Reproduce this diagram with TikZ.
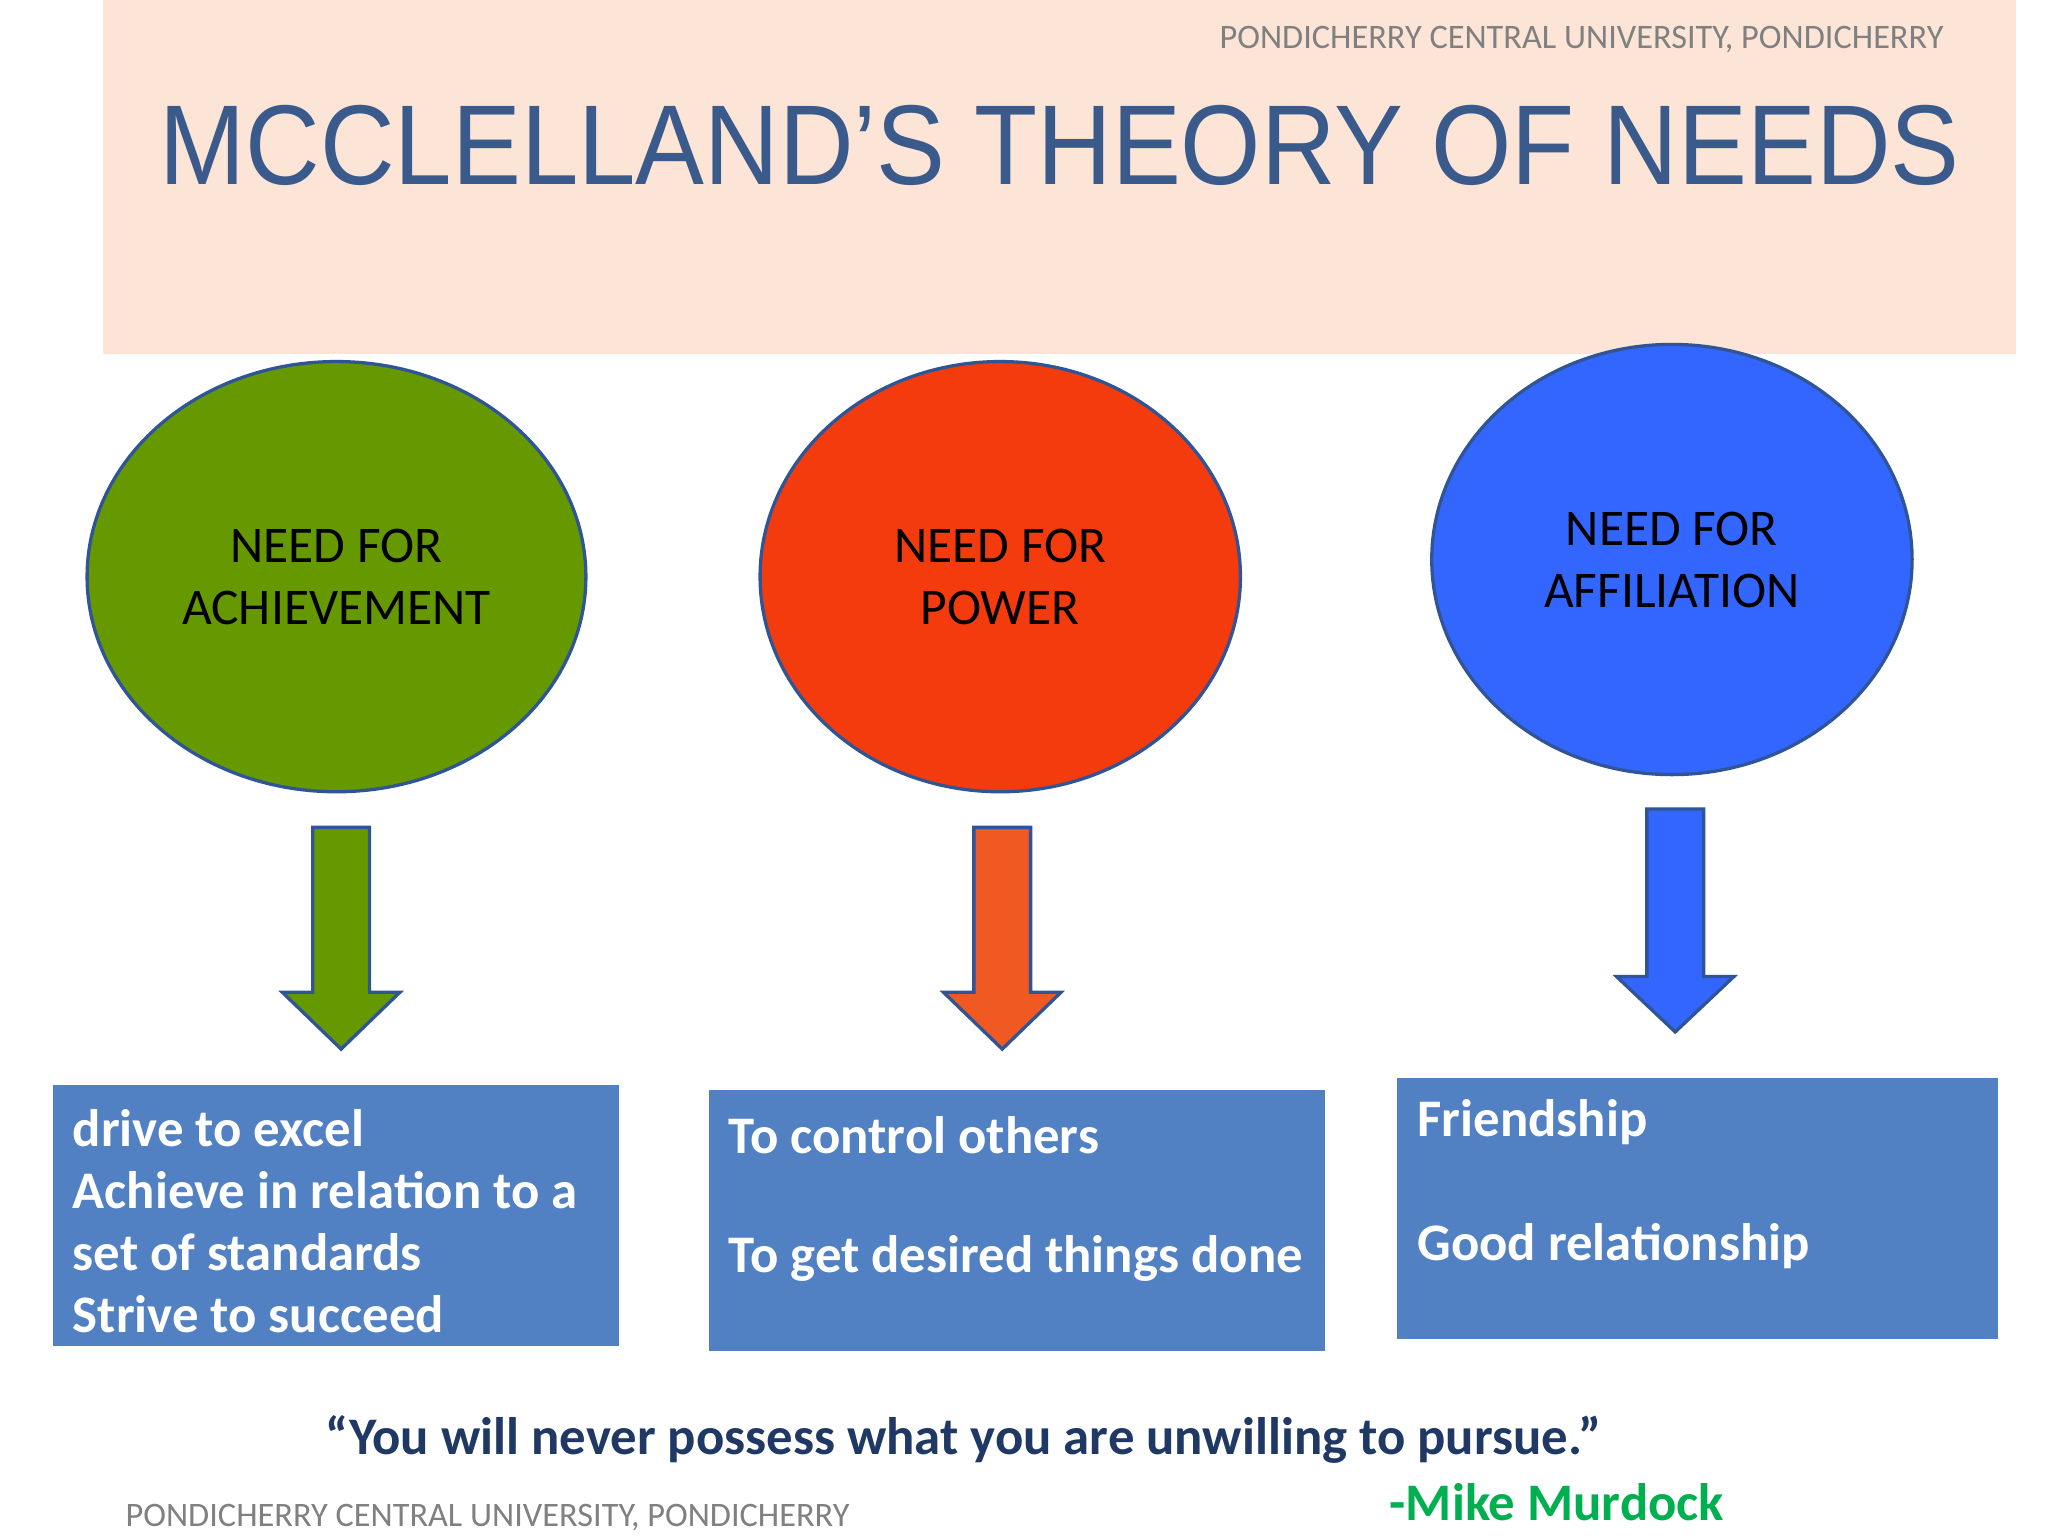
\documentclass[tikz,border=0pt]{standalone}
\usepackage{fontspec}
\setmainfont{Carlito}
\newfontfamily\arialf{Liberation Sans}
\usetikzlibrary{shapes.geometric}
\definecolor{peach}{HTML}{FCE4D6}
\definecolor{titleblue}{HTML}{3A5A8C}
\definecolor{edgeblue}{HTML}{2F5597}
\definecolor{gr}{HTML}{669900}
\definecolor{rd}{HTML}{F43B0E}
\definecolor{bl}{HTML}{3366FF}
\definecolor{orng}{HTML}{F05A22}
\definecolor{boxb}{HTML}{5281C3}
\definecolor{navy}{HTML}{1F3864}
\definecolor{mgreen}{HTML}{00B050}
\begin{document}
\begin{tikzpicture}[x=1pt,y=-1pt,
  need/.style={ellipse,draw=edgeblue,line width=2.5pt,align=center,font=\fontsize{39}{47}\selectfont,text=black},
  blk/.style={draw=edgeblue,line width=2.5pt,line join=miter},
  infobox/.style={fill=boxb,draw=none},
  infotxt/.style={anchor=west,text=white,font=\fontsize{40}{42}\selectfont\bfseries,inner sep=0pt},
  foot/.style={text=gray,font=\fontsize{26}{28}\selectfont,inner sep=0pt}]
\useasboundingbox (0,0) rectangle (1552,1164);
\fill[white] (0,0) rectangle (1552,1164);
\fill[peach] (78,0) rectangle (1528,268);
\node[foot,anchor=east] (uni1) at (1473,30) {PONDICHERRY CENTRAL UNIVERSITY, PONDICHERRY};
\node[text=titleblue,font=\arialf\fontsize{86}{90}\selectfont,inner sep=0pt] (title) at (803,110) {\scalebox{0.91}[1]{MCCLELLAND’S THEORY OF NEEDS}};
% ellipses
\node[need,fill=gr,minimum width=378pt,minimum height=326pt] (ach) at (255,437) {NEED FOR\\ACHIEVEMENT};
\node[need,fill=rd,minimum width=364pt,minimum height=326pt] (pow) at (758,437) {NEED FOR\\POWER};
\node[need,fill=bl,minimum width=364pt,minimum height=326pt] (aff) at (1267,424) {NEED FOR\\AFFILIATION};
% block arrows
\draw[blk,fill=gr] (237,627)--(280,627)--(280,752)--(303,752)--(258.5,795)--(214,752)--(237,752)--cycle;
\draw[blk,fill=orng] (738,627)--(781,627)--(781,752)--(804,752)--(759.5,795)--(715,752)--(738,752)--cycle;
\draw[blk,fill=bl] (1248,613)--(1291,613)--(1291,740)--(1314,740)--(1269.5,782)--(1225,740)--(1248,740)--cycle;
% boxes
\fill[infobox] (40,822) rectangle (469,1020);
\fill[infobox] (537,826) rectangle (1004,1024);
\fill[infobox] (1059,817) rectangle (1514,1015);
\node[infotxt] (a1) at (55,855) {drive to excel};
\node[infotxt] (a2) at (55,902) {Achieve in relation to a};
\node[infotxt] (a3) at (55,949) {set of standards};
\node[infotxt] (a4) at (55,996) {Strive to succeed};
\node[infotxt] (p1) at (552,860) {To control others};
\node[infotxt] (p2) at (552,954) {To get desired things done};
\node[infotxt] (f1) at (1074,850) {Friendship};
\node[infotxt] (f2) at (1074,944) {Good relationship};
% quote
\node[text=navy,font=\fontsize{40}{42}\selectfont\bfseries,inner sep=0pt] (quote) at (730,1091) {“You will never possess what you are unwilling to pursue.”};
\node[text=mgreen,font=\fontsize{40}{42}\selectfont\bfseries,inner sep=0pt,anchor=west] (author) at (1053,1138) {-Mike Murdock};
\node[foot,anchor=west] (uni2) at (95,1150) {PONDICHERRY CENTRAL UNIVERSITY, PONDICHERRY};
\end{tikzpicture}
\end{document}
